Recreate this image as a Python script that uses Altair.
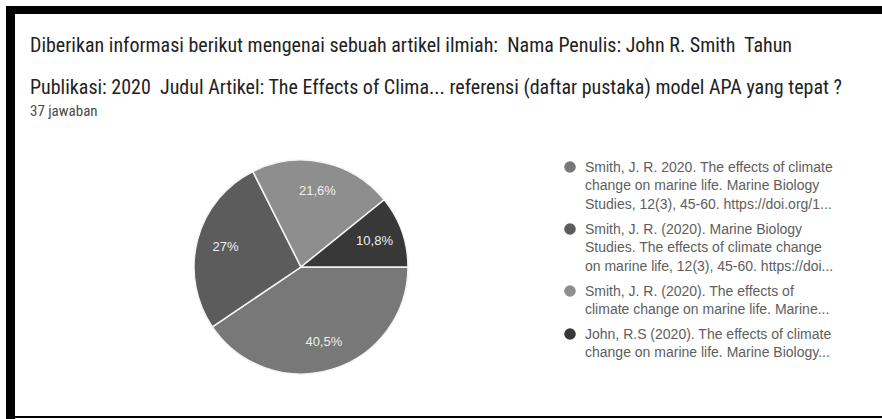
import math
import altair as alt
import pandas as pd

# ---- data ----
answers = [
    "Smith, J. R. 2020. The effects of climate|change on marine life. Marine Biology|Studies, 12(3), 45-60. https://doi.org/1...",
    "Smith, J. R. (2020). Marine Biology|Studies. The effects of climate change|on marine life, 12(3), 45-60. https://doi...",
    "Smith, J. R. (2020). The effects of|climate change on marine life. Marine...",
    "John, R.S (2020). The effects of climate|change on marine life. Marine Biology...",
]
counts = [15, 10, 8, 4]
pct_labels = ["40,5%", "27%", "21,6%", "10,8%"]
colors = ["#787878", "#5c5c5c", "#8e8e8e", "#383838"]
title_lines = [
    "Diberikan informasi berikut mengenai sebuah artikel ilmiah:\u00a0 Nama Penulis: John R. Smith\u00a0 Tahun",
    "Publikasi: 2020\u00a0 Judul Artikel: The Effects of Clima... referensi (daftar pustaka) model APA yang tepat ?",
]
subtitle = "37 jawaban"

df = pd.DataFrame({
    "answer": answers,
    "count": counts,
    "label": pct_labels,
    "order": list(range(len(answers))),
})

CX, CY, R = 301, 267, 107
theta_scale = alt.Scale(range=[math.pi / 2, math.pi / 2 + 2 * math.pi])

base = alt.Chart(df)

arcs = base.mark_arc(outerRadius=R, stroke="#f4f4f4", strokeWidth=1.5).encode(
    theta=alt.Theta("count:Q", stack=True, scale=theta_scale),
    order=alt.Order("order:Q"),
    color=alt.Color(
        "answer:N",
        scale=alt.Scale(domain=answers, range=colors),
        legend=alt.Legend(
            title=None,
            orient="none",
            legendX=563,
            legendY=160,
            symbolType="circle",
            symbolSize=135,
            symbolStrokeWidth=0,
            labelFont="Liberation Sans",
            labelFontSize=14,
            labelColor="#5e5e5e",
            labelLimit=600,
            labelBaseline="top",
            labelOffset=8,
            rowPadding=10,
            labelExpr="split(datum.label, '|')",
        ),
    ),
    x=alt.value(CX),
    y=alt.value(CY),
)

pct_text = base.mark_text(
    radius=78, fontSize=13, font="Liberation Sans", fill="#eeeeee"
).encode(
    theta=alt.Theta("count:Q", stack=True, scale=theta_scale),
    order=alt.Order("order:Q"),
    detail="answer:N",
    text="label:N",
    x=alt.value(CX),
    y=alt.value(CY),
)

TITLE_FONT = "'Liberation Sans Narrow', 'Roboto Condensed', 'DejaVu Sans Condensed', Roboto"

def text_line(txt, x, y, size, color, font):
    return alt.Chart(pd.DataFrame({"t": [txt]})).mark_text(
        align="left", baseline="alphabetic", font=font, fontSize=size, fill=color
    ).encode(text="t:N", x=alt.value(x), y=alt.value(y))

t1 = text_line(title_lines[0], 30, 52, 20, "#222222", TITLE_FONT)
t2 = text_line(title_lines[1], 30, 94, 20, "#222222", TITLE_FONT)
t3 = text_line(subtitle, 30, 116, 15, "#4a4a4a", TITLE_FONT)

one = pd.DataFrame({"a": [0]})
top_band = alt.Chart(one).mark_rule(color="black", strokeWidth=8).encode(
    x=alt.value(6), x2=alt.value(882), y=alt.value(10)
)
left_band = alt.Chart(one).mark_rule(color="black", strokeWidth=9).encode(
    x=alt.value(10.5), y=alt.value(6), y2=alt.value(419)
)
bottom_line = alt.Chart(one).mark_rule(color="black", strokeWidth=2).encode(
    x=alt.value(6), x2=alt.value(882), y=alt.value(417)
)

chart = alt.layer(
    arcs, pct_text, t1, t2, t3, top_band, left_band, bottom_line
).properties(
    width=882, height=419, padding=0, autosize=alt.AutoSizeParams(type="none"),
    background="white",
).configure(
    style={"guide-label": {"lineHeight": 18.5, "dy": -6.5}}
).configure_view(strokeWidth=0)

chart.save("out.html", embed_options={"renderer": "svg", "actions": False})
